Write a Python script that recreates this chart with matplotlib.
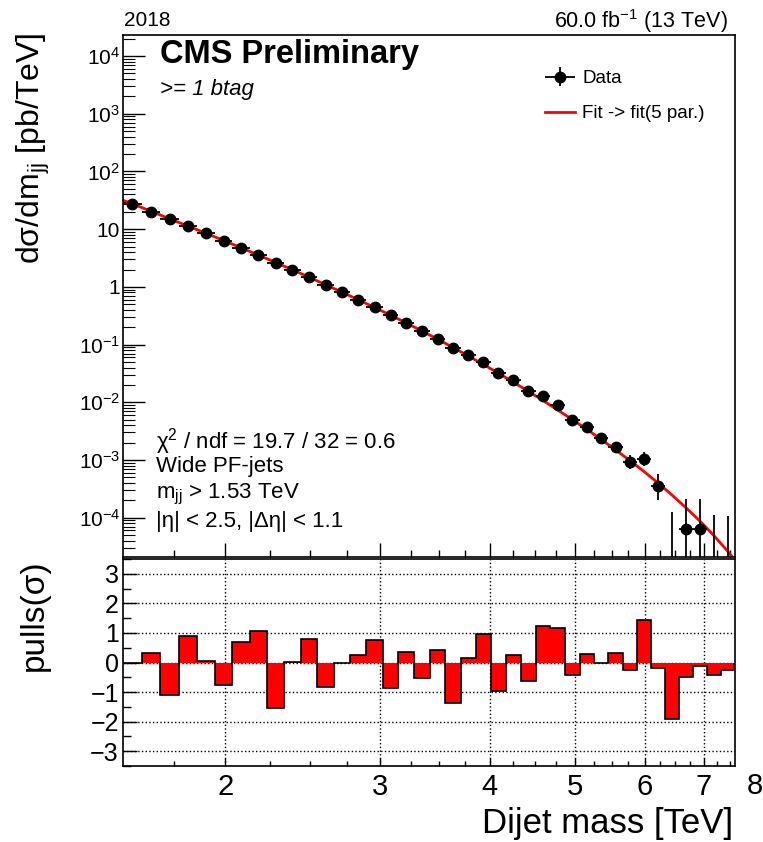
import matplotlib
matplotlib.use("Agg")
import matplotlib.pyplot as plt
import matplotlib.transforms as mtransforms
import numpy as np
from matplotlib.legend_handler import HandlerErrorbar
from matplotlib.ticker import FixedLocator, FixedFormatter, NullFormatter

plt.rcParams["font.family"] = ["Liberation Sans", "DejaVu Sans"]
plt.rcParams["mathtext.fontset"] = "custom"
plt.rcParams["mathtext.rm"] = "Liberation Sans"
plt.rcParams["mathtext.it"] = "Liberation Sans:italic"
plt.rcParams["mathtext.bf"] = "Liberation Sans:bold"
plt.rcParams["mathtext.default"] = "regular"

# dijet mass bin edges [TeV]
edges = [1.530, 1.607, 1.687, 1.770, 1.856, 1.945, 2.037, 2.132, 2.231, 2.332,
         2.438, 2.546, 2.659, 2.775, 2.895, 3.019, 3.147, 3.279, 3.416, 3.558,
         3.704, 3.854, 4.010, 4.171, 4.337, 4.509, 4.686, 4.869, 5.058, 5.253,
         5.455, 5.663, 5.877, 6.099, 6.328, 6.564, 6.808, 7.060, 7.320, 7.589]

# measured d(sigma)/dm [pb/TeV], 0 = empty bin
xsec = [27.3, 20.1, 15.0, 11.4, 8.49, 6.32, 4.78, 3.57, 2.63, 1.96,
        1.47, 1.08, 0.805, 0.600, 0.449, 0.322, 0.237, 0.172, 0.125, 0.0863,
        0.0661, 0.0493, 0.0318, 0.0241, 0.0157, 0.0127, 0.00887, 0.00499, 0.00373, 0.00238,
        0.00166, 0.000912, 0.00104, 0.000354, 0.0, 6.4e-5, 6.4e-5, 0.0, 0.0]

# relative stat. errors (down / up)
err_lo = [0.003, 0.003, 0.004, 0.004, 0.005, 0.005, 0.006, 0.007, 0.008, 0.009,
          0.010, 0.012, 0.013, 0.015, 0.017, 0.020, 0.023, 0.026, 0.030, 0.036,
          0.041, 0.048, 0.058, 0.066, 0.078, 0.087, 0.10, 0.13, 0.15, 0.18,
          0.21, 0.25, 0.24, 0.43, 0.0, 0.83, 0.83, 0.0, 0.0]
err_hi = [0.003, 0.003, 0.004, 0.004, 0.005, 0.005, 0.006, 0.007, 0.008, 0.009,
          0.010, 0.012, 0.013, 0.015, 0.017, 0.020, 0.023, 0.026, 0.030, 0.036,
          0.041, 0.048, 0.058, 0.066, 0.080, 0.090, 0.11, 0.14, 0.17, 0.21,
          0.25, 0.32, 0.30, 0.62, 0.0, 2.3, 2.3, 0.0, 0.0]

# upper limit shown for the empty bins [pb/TeV]
empty_upper = {34: 1.24e-4, 37: 1.11e-4, 38: 1.08e-4}

# fit curve, log10(pb/TeV) at m = 1.53, bin centres, 7.589
fit_log = [1.50,
           1.44, 1.31, 1.18, 1.055, 0.93, 0.805, 0.678, 0.55, 0.424, 0.296,
           0.166, 0.036, -0.094, -0.225, -0.357, -0.49, -0.627, -0.765, -0.906, -1.05,
           -1.196, -1.345, -1.497, -1.652, -1.81, -1.97, -2.135, -2.30, -2.47, -2.645,
           -2.825, -3.01, -3.20, -3.40, -3.61, -3.83, -4.06, -4.31, -4.58,
           -4.73]

# (data - fit) / sigma per bin
pulls = [0.0, 0.32, -1.09, 0.89, 0.06, -0.76, 0.69, 1.08, -1.53, 0.03,
         0.78, -0.82, 0.0, 0.27, 0.75, -0.86, 0.36, -0.53, 0.43, -1.36,
         0.14, 0.98, -0.95, 0.25, -0.63, 1.25, 1.15, -0.41, 0.30, 0.0,
         0.32, -0.24, 1.45, -0.17, -1.92, -0.5, -0.12, -0.41, -0.25]

edges = np.array(edges)
xsec = np.array(xsec)
centers = 0.5 * (edges[:-1] + edges[1:])
halfw = 0.5 * (edges[1:] - edges[:-1])
fit_mass = np.concatenate([[edges[0]], centers, [edges[-1]]])
fit_val = 10.0 ** np.array(fit_log)

xmin, xmax = 1.53, 7.6
ymin, ymax = 2.08e-5, 2.32e4

W, H = 763, 842
fig = plt.figure(figsize=(W / 100, H / 100), dpi=100)
ax = fig.add_axes([123 / W, 1 - 557 / H, 612 / W, 522 / H])
ax2 = fig.add_axes([123 / W, 1 - 766 / H, 612 / W, 207 / H])

# ---- top panel
filled = xsec > 0
fit_line, = ax.plot(fit_mass, fit_val, color="red", lw=2, label="Fit -> fit(5 par.)", zorder=2)
data = ax.errorbar(centers[filled], xsec[filled], xerr=halfw[filled],
                   yerr=[xsec[filled] * np.array(err_lo)[filled],
                         xsec[filled] * np.array(err_hi)[filled]],
                   fmt="o", color="black", ms=7.5, elinewidth=1.3, capsize=0,
                   label="Data", zorder=3)
for i, up in empty_upper.items():
    ax.vlines(centers[i], 1e-7, up, color="black", lw=1.3, zorder=3)

major_x = [2, 3, 4, 5, 6, 7]
minor_x = [1.75, 2.25, 2.5, 2.75, 3.25, 3.5, 3.75, 4.25, 4.5, 4.75,
           5.25, 5.5, 5.75, 6.25, 6.5, 6.75, 7.25, 7.5]
ytick_vals = [1e-4, 1e-3, 1e-2, 1e-1, 1, 10, 1e2, 1e3, 1e4]
ytick_labels = ["10$^{-4}$", "10$^{-3}$", "10$^{-2}$", "10$^{-1}$", "1", "10",
                "10$^{2}$", "10$^{3}$", "10$^{4}$"]
minor_y = [m * 10.0 ** e for e in range(-5, 5) for m in range(2, 10)]

for a in (ax, ax2):
    a.set_xscale("log")
    a.set_xlim(xmin, xmax)
    a.xaxis.set_major_locator(FixedLocator(major_x))
    a.xaxis.set_minor_locator(FixedLocator(minor_x))
    a.xaxis.set_minor_formatter(NullFormatter())
    for s in a.spines.values():
        s.set_linewidth(1.2)

ax.set_yscale("log")
ax.set_ylim(ymin, ymax)
ax.xaxis.set_major_formatter(NullFormatter())
ax.yaxis.set_major_locator(FixedLocator(ytick_vals))
ax.yaxis.set_major_formatter(FixedFormatter(ytick_labels))
ax.yaxis.set_minor_locator(FixedLocator(minor_y))
ax.yaxis.set_minor_formatter(NullFormatter())
ax.tick_params(axis="x", which="major", direction="in", length=10, width=1, top=False)
ax.tick_params(axis="x", which="minor", direction="in", length=5, width=1, top=False)
ax.tick_params(axis="y", which="major", direction="in", length=15.5, width=1,
               right=False, labelsize=15, pad=2)
ax.tick_params(axis="y", which="minor", direction="in", length=8.5, width=0.8, right=False)

ax.legend(handles=[data, fit_line], loc="upper left",
          bbox_to_anchor=((545 - 123) / 612, 1 - (70 - 35) / 522),
          frameon=False, fontsize=13.5, handlelength=1.6, handletextpad=0.4,
          labelspacing=0.95, borderaxespad=0, borderpad=0,
          handler_map={type(data): HandlerErrorbar(xerr_size=0.8, yerr_size=0.5)})

# ---- pull panel
ax2.stairs(pulls, edges, fill=True, color="red", zorder=2)
ax2.stairs(pulls, edges, color="black", lw=1.2, zorder=3)
ax2.set_ylim(-3.5, 3.5)
ax2.xaxis.set_major_formatter(FixedFormatter([str(v) for v in major_x]))
ax2.yaxis.set_major_locator(FixedLocator([-3, -2, -1, 0, 1, 2, 3]))
ax2.yaxis.set_minor_locator(FixedLocator([-3.5, -2.5, -1.5, -0.5, 0.5, 1.5, 2.5, 3.5]))
ax2.grid(True, which="major", ls=":", color="black", lw=1)
ax2.set_axisbelow(True)
ax2.tick_params(axis="x", which="major", direction="in", length=6, width=1,
                top=False, labelsize=21, pad=5)
ax2.tick_params(axis="x", which="minor", direction="in", length=3.5, width=1, top=False)
ax2.tick_params(axis="y", which="major", direction="in", length=10, width=1,
                right=False, labelsize=18, pad=3)
ax2.tick_params(axis="y", which="minor", direction="in", length=5.5, width=1, right=False)
trans = mtransforms.blended_transform_factory(ax2.transData, ax2.transAxes)
ax2.text(8, -0.03, "8", transform=trans, ha="center", va="top", fontsize=21, clip_on=False)

# ---- labels
ax.text(-0.1456, 1.005, "d\u03c3/dm$_{jj}$ [pb/TeV]", transform=ax.transAxes,
        rotation=90, ha="center", va="top", fontsize=23)
ax2.text(-0.1456, 1.0, "pulls(\u03c3)", transform=ax2.transAxes,
         rotation=90, ha="center", va="top", fontsize=24)
fig.text(733 / W, 1 - 824 / H, "Dijet mass [TeV]", ha="right", va="center", fontsize=25)

fig.text(124 / W, 1 - 21 / H, "2018", ha="left", va="center", fontsize=15)
fig.text(728 / W, 1 - 21 / H, "60.0 fb$^{-1}$ (13 TeV)", ha="right", va="center", fontsize=15.5)
fig.text(160 / W, 1 - 55 / H, "CMS Preliminary", ha="left", va="center",
         fontsize=23.5, fontweight="bold")
fig.text(160 / W, 1 - 89 / H, ">= 1 btag", ha="left", va="center", fontsize=16, style="italic")

stats = ["\u03c7$^{2}$ / ndf = 19.7 / 32 = 0.6", "Wide PF-jets", "m$_{jj}$ > 1.53 TeV",
         "|\u03b7| < 2.5, |\u0394\u03b7| < 1.1"]
for line, y in zip(stats, [442, 467, 494, 521]):
    fig.text(156 / W, 1 - y / H, line, ha="left", va="center", fontsize=16)

fig.savefig("out.png", dpi=100)
